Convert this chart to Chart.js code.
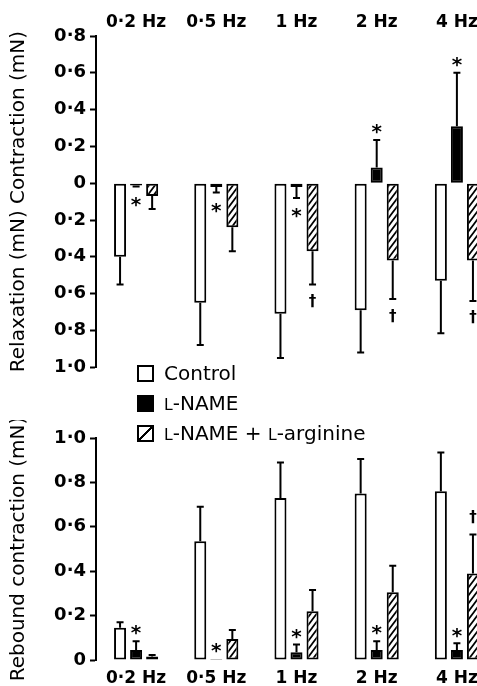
<!DOCTYPE html>
<html><head><meta charset="utf-8">
<script src="https://cdn.jsdelivr.net/npm/chart.js@4.4.1/dist/chart.umd.min.js"></script>
<style>
html,body{margin:0;padding:0;background:#fff;overflow:hidden;width:477px;height:686px;}
#wrap{position:relative;width:477px;height:686px;overflow:hidden;background:#fff;}
canvas{position:absolute;left:0;}
#topChart{top:0;}
#botChart{top:420px;}
#legend{position:absolute;left:137px;top:358px;font-family:"DejaVu Sans",sans-serif;font-size:20px;color:#000;z-index:2;}
.row{height:30px;display:flex;align-items:center;white-space:nowrap;}
.box{width:13px;height:13px;border:2px solid #000;margin-right:10px;flex:none;}
.sc{font-size:0.78em;}
</style></head>
<body><div id="wrap">
<canvas id="topChart" width="500" height="382" style="width:500px;height:382px"></canvas>
<canvas id="botChart" width="500" height="266" style="width:500px;height:266px"></canvas>
<div id="legend"></div>
</div>
<script>
// ---------- data ----------
const frequencies = ['0·2 Hz', '0·5 Hz', '1 Hz', '2 Hz', '4 Hz'];
const seriesNames = ['Control', 'L-NAME', 'L-NAME + L-arginine'];

// Upper panel: contraction (+) / relaxation (−), mN, mean and s.e.m.
const topControl     = [-0.40, -0.65, -0.71, -0.69, -0.53];
const topControlSem  = [0.15, 0.23, 0.24, 0.23, 0.285];
const topLname       = [-0.012, -0.02, -0.02, 0.085, 0.31];
const topLnameSem    = [0.006, 0.03, 0.06, 0.15, 0.29];
const topArginine    = [-0.07, -0.24, -0.37, -0.42, -0.42];
const topArginineSem = [0.07, 0.13, 0.18, 0.21, 0.22];
const topLnameMarks    = ['*', '*', '*', '*', '*'];
const topArginineMarks = ['', '', '†', '†', '†'];
const topTickLabels = ['1·0', '0·8', '0·6', '0·4', '0·2', '0', '0·2', '0·4', '0·6', '0·8'];
const topAxisTitle = 'Relaxation (mN) Contraction (mN)';

// Lower panel: rebound contraction, mN
const botControl     = [0.145, 0.535, 0.73, 0.75, 0.76];
const botControlSem  = [0.025, 0.155, 0.16, 0.155, 0.175];
const botLname       = [0.045, 0.005, 0.035, 0.045, 0.045];
const botLnameSem    = [0.04, 0, 0.035, 0.04, 0.03];
const botArginine    = [0.016, 0.095, 0.22, 0.305, 0.39];
const botArginineSem = [0.007, 0.04, 0.095, 0.12, 0.175];
const botLnameMarks    = ['*', '*', '*', '*', '*'];
const botArginineMarks = ['', '', '', '', '†'];
const botTickLabels = ['0', '0·2', '0·4', '0·6', '0·8', '1·0'];
const botAxisTitle = 'Rebound contraction (mN)';

// ---------- styling ----------
Chart.defaults.font.family = '"DejaVu Sans", sans-serif';
Chart.defaults.color = '#000';

function makeHatch() {
  const c = document.createElement('canvas');
  c.width = 6; c.height = 8;
  const g = c.getContext('2d');
  g.fillStyle = '#fff'; g.fillRect(0, 0, 6, 8);
  g.strokeStyle = '#000'; g.lineWidth = 1.7;
  g.beginPath();
  // lines of family 4x + 3y = 24k  ("/" direction)
  [0, 24, 48].forEach(k => {
    g.moveTo(-6, (k + 24) / 3); g.lineTo(12, (k - 48) / 3);
  });
  g.stroke();
  return g.createPattern(c, 'repeat');
}
const hatch = makeHatch();

const errorBarPlugin = {
  id: 'errorBars',
  afterDatasetsDraw(chart) {
    const ctx = chart.ctx, yScale = chart.scales.y;
    ctx.save();
    ctx.strokeStyle = '#000'; ctx.fillStyle = '#000'; ctx.lineWidth = 2;
    chart.data.datasets.forEach((ds, di) => {
      const meta = chart.getDatasetMeta(di);
      meta.data.forEach((bar, i) => {
        const v = ds.data[i], e = ds.sem[i] || 0;
        const dir = v < 0 ? -1 : 1;
        const yEnd = yScale.getPixelForValue(v + dir * e);
        if (e > 0) {
          ctx.beginPath();
          ctx.moveTo(bar.x, bar.y); ctx.lineTo(bar.x, yEnd);
          ctx.moveTo(bar.x - 3.5, yEnd); ctx.lineTo(bar.x + 3.5, yEnd);
          ctx.stroke();
        }
        const m = ds.marks && ds.marks[i];
        if (m) {
          const star = m === '*';
          const off = star ? 13 : 17;
          const cy = yEnd - dir * off;
          const size = star ? 20 : 15;
          ctx.font = 'bold ' + size + 'px "DejaVu Sans", sans-serif';
          ctx.textAlign = 'center'; ctx.textBaseline = 'alphabetic';
          ctx.fillText(m, bar.x, cy + (star ? 0.56 : 0.3) * size);
        }
      });
    });
    ctx.restore();
  }
};

function datasets(ctrl, ctrlSem, ln, lnSem, lnMarks, arg, argSem, argMarks) {
  const base = {borderColor: '#000', borderWidth: 2, borderSkipped: false,
                categoryPercentage: 0.6, barPercentage: 0.75};
  return [
    Object.assign({label: seriesNames[0], data: ctrl, sem: ctrlSem, marks: [], backgroundColor: '#fff'}, base),
    Object.assign({label: seriesNames[1], data: ln, sem: lnSem, marks: lnMarks, backgroundColor: '#000'}, base),
    Object.assign({label: seriesNames[2], data: arg, sem: argSem, marks: argMarks, backgroundColor: hatch}, base)
  ];
}

function yAxis(min, max, labels, title) {
  return {
    type: 'linear', min: min, max: max,
    ticks: {stepSize: 0.2, autoSkip: false, padding: 4, color: '#000',
            font: {size: 18, weight: 'bold'},
            callback: (v, i) => labels[i]},
    grid: {display: true, drawOnChartArea: false, drawTicks: true, tickLength: 6,
           tickWidth: 2, tickColor: '#000', color: '#000'},
    border: {display: true, color: '#000', width: 2},
    title: {display: true, text: title, color: '#000', font: {size: 20, weight: 'normal'},
            padding: {top: 7, bottom: 0}},
    afterFit: s => { s.width = 96; }
  };
}

function xAxis(position, h, pad) {
  return {
    type: 'category', position: position,
    grid: {display: false, drawTicks: false},
    border: {display: false},
    ticks: {padding: pad, color: '#000', font: {size: 17, weight: 'bold'}, autoSkip: false, maxRotation: 0},
    afterFit: s => { s.height = h; }
  };
}

const baseOpts = {
  responsive: false, animation: false, devicePixelRatio: 1,
  plugins: {legend: {display: false}, tooltip: {enabled: false}}
};

const topChart = new Chart(document.getElementById('topChart'), {
  type: 'bar',
  data: {labels: frequencies,
         datasets: datasets(topControl, topControlSem, topLname, topLnameSem, topLnameMarks,
                            topArginine, topArginineSem, topArginineMarks)},
  options: Object.assign({}, baseOpts, {
    layout: {padding: {left: 0, right: 3, top: 0, bottom: 12}},
    scales: {x: xAxis('top', 36, 3), y: yAxis(-1, 0.8, topTickLabels, topAxisTitle)}
  }),
  plugins: [errorBarPlugin]
});

const botChart = new Chart(document.getElementById('botChart'), {
  type: 'bar',
  data: {labels: frequencies,
         datasets: datasets(botControl, botControlSem, botLname, botLnameSem, botLnameMarks,
                            botArginine, botArginineSem, botArginineMarks)},
  options: Object.assign({}, baseOpts, {
    layout: {padding: {left: 0, right: 3, top: 18, bottom: 0}},
    scales: {x: xAxis('bottom', 26, 8), y: yAxis(0, 1, botTickLabels, botAxisTitle)}
  }),
  plugins: [errorBarPlugin]
});

// ---------- legend built from the chart's datasets ----------
const legendEl = document.getElementById('legend');
const boxBg = ['#fff', '#000',
  'linear-gradient(to bottom right, #fff calc(50% - 1.2px), #000 calc(50% - 1.2px), #000 calc(50% + 1.2px), #fff calc(50% + 1.2px))'];
botChart.data.datasets.forEach((ds, i) => {
  const row = document.createElement('div');
  row.className = 'row';
  const box = document.createElement('span');
  box.className = 'box';
  box.style.background = boxBg[i];
  row.appendChild(box);
  const txt = document.createElement('span');
  txt.innerHTML = ds.label.replace(/L-/g, '<span class="sc">L</span>-');
  row.appendChild(txt);
  legendEl.appendChild(row);
});
</script>
</body></html>
